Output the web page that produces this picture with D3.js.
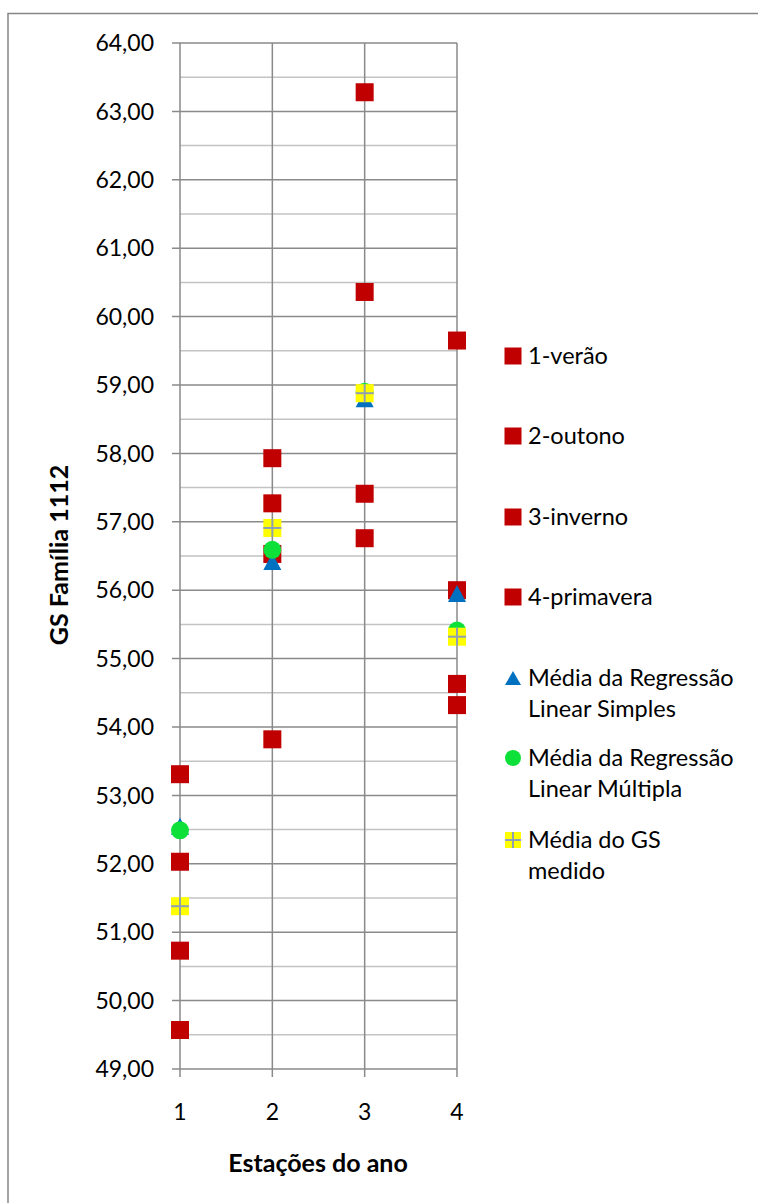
<!DOCTYPE html>
<html>
<head>
<meta charset="utf-8">
<script src="https://cdn.jsdelivr.net/npm/d3@7/dist/d3.min.js"></script>
<style>
  html, body { margin: 0; padding: 0; background: #fff; }
  svg text { font-family: Lato, "Open Sans", sans-serif; fill: #000; }
</style>
</head>
<body>
<script>
// ---- data ----
const categories = [1, 2, 3, 4];
const verao = [53.31, 52.03, 50.73, 49.57];      // season 1 measurements
const outono = [57.93, 57.27, 56.53, 53.82];     // season 2
const inverno = [63.28, 60.36, 57.41, 56.76];    // season 3
const primavera = [59.65, 56.00, 54.63, 54.32];  // season 4
const regSimples = [52.55, 56.42, 58.80, 55.95];
const regMultipla = [52.49, 56.59, 58.90, 55.41];
const mediaMedido = [51.38, 56.91, 58.88, 55.32];
const yTicks = [49, 50, 51, 52, 53, 54, 55, 56, 57, 58, 59, 60, 61, 62, 63, 64];
const legendLabels = [
  ["1-verão"], ["2-outono"], ["3-inverno"], ["4-primavera"],
  ["Média da Regressão", "Linear Simples"],
  ["Média da Regressão", "Linear Múltipla"],
  ["Média do GS", "medido"]
];

const W = 758, H = 1203;
const svg = d3.select("body").append("svg").attr("width", W).attr("height", H);

// chart frame
svg.append("rect").attr("x", 8).attr("y", 13.5).attr("width", 800).attr("height", 1300)
  .attr("fill", "#fff").attr("stroke", "#868686").attr("stroke-width", 1.5);

const x = d3.scaleLinear().domain([1, 4]).range([180, 457]);
const y = d3.scaleLinear().domain([49, 64]).range([1069, 43]);

const g = svg.append("g");
// minor gridlines
const minors = d3.range(49.5, 64, 1);
g.selectAll("line.minor").data(minors).join("line")
  .attr("x1", x(1)).attr("x2", x(4)).attr("y1", d => y(d)).attr("y2", d => y(d))
  .attr("stroke", "#c3c3c3").attr("stroke-width", 1.5);
// major gridlines
g.selectAll("line.major").data(yTicks).join("line")
  .attr("x1", x(1) - 8).attr("x2", x(4)).attr("y1", d => y(d)).attr("y2", d => y(d))
  .attr("stroke", "#8a8a8a").attr("stroke-width", 1.5);
// vertical gridlines
g.selectAll("line.vert").data(categories).join("line")
  .attr("x1", d => x(d)).attr("x2", d => x(d)).attr("y1", y(64)).attr("y2", y(49) + 8)
  .attr("stroke", "#8a8a8a").attr("stroke-width", 1.5);

// y tick labels
const fmt = v => d3.format(".2f")(v).replace(".", ",");
g.selectAll("text.ytick").data(yTicks).join("text")
  .attr("x", 154).attr("y", d => y(d)).attr("dy", "0.36em")
  .attr("text-anchor", "end").style("font-size", "23px").text(fmt);
// x tick labels
g.selectAll("text.xtick").data(categories).join("text")
  .attr("x", d => x(d)).attr("y", 1120).attr("text-anchor", "middle")
  .style("font-size", "23px").text(d => d);

// axis titles
svg.append("text").attr("transform", "translate(68,555) rotate(-90)")
  .attr("text-anchor", "middle").style("font-size", "25px").style("font-weight", "bold")
  .text("GS Família 1112");
svg.append("text").attr("x", 318).attr("y", 1172).attr("text-anchor", "middle")
  .style("font-size", "25px").style("font-weight", "bold").text("Estações do ano");

// markers
const RED = "#C00000", BLUE = "#0070C0", GREEN = "#0EE03A", YEL = "#FFFF00", CROSS = "#8fa0b4";
const S = 18;
const seasons = [verao, outono, inverno, primavera];
seasons.forEach((vals, i) => {
  g.selectAll(null).data(vals).join("rect")
    .attr("x", v => x(categories[i]) - S / 2).attr("y", v => y(v) - S / 2)
    .attr("width", S).attr("height", S).attr("fill", RED);
});
const tri = (cx, cy, w, h) => `M${cx},${cy - h / 2}L${cx + w / 2},${cy + h / 2}L${cx - w / 2},${cy + h / 2}Z`;
g.selectAll("path.tri").data(regSimples).join("path")
  .attr("d", (v, i) => tri(x(categories[i]), y(v), 18, 17)).attr("fill", BLUE);
g.selectAll("circle.mult").data(regMultipla).join("circle")
  .attr("cx", (v, i) => x(categories[i])).attr("cy", v => y(v)).attr("r", 9).attr("fill", GREEN);
function plusMarker(sel, cx, cy, s) {
  sel.append("rect").attr("x", cx - s / 2).attr("y", cy - s / 2).attr("width", s).attr("height", s).attr("fill", YEL);
  sel.append("line").attr("x1", cx - s / 2).attr("x2", cx + s / 2).attr("y1", cy).attr("y2", cy).attr("stroke", CROSS).attr("stroke-width", 2);
  sel.append("line").attr("x1", cx).attr("x2", cx).attr("y1", cy - s / 2).attr("y2", cy + s / 2).attr("stroke", CROSS).attr("stroke-width", 2);
}
mediaMedido.forEach((v, i) => plusMarker(g.append("g"), x(categories[i]), y(v), S));

// legend
const legY = [356, 436, 517, 597, 678, 758, 840];
const lg = svg.append("g");
legendLabels.forEach((lines, i) => {
  const cy = legY[i], cx = 513;
  if (i < 4) lg.append("rect").attr("x", cx - 8.5).attr("y", cy - 8.5).attr("width", 17).attr("height", 17).attr("fill", RED);
  else if (i === 4) lg.append("path").attr("d", tri(cx, cy, 16, 14)).attr("fill", BLUE);
  else if (i === 5) lg.append("circle").attr("cx", cx).attr("cy", cy).attr("r", 8).attr("fill", GREEN);
  else plusMarker(lg.append("g"), cx, cy, 16);
  lines.forEach((t, j) => {
    lg.append("text").attr("x", 528).attr("y", cy + j * 31).attr("dy", "0.36em")
      .style("font-size", "23.5px").text(t);
  });
});
</script>
</body>
</html>
